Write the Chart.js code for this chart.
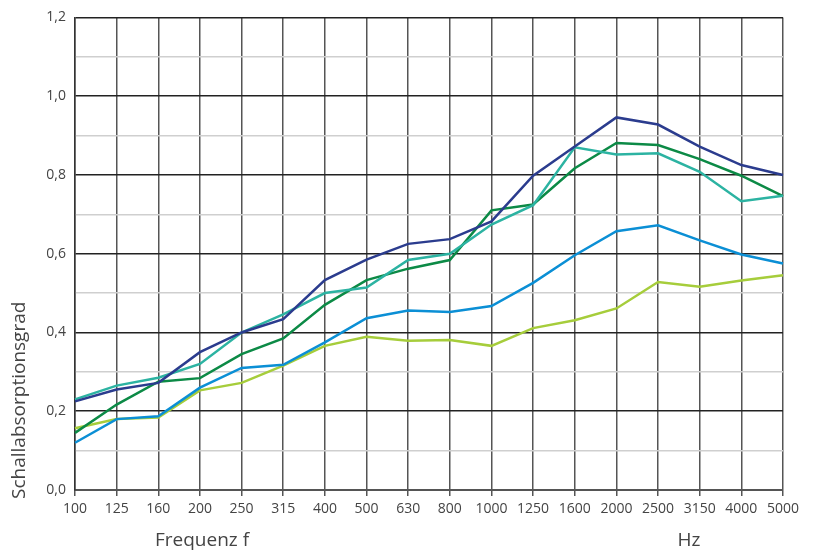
<!DOCTYPE html>
<html>
<head>
<meta charset="utf-8">
<script src="https://cdn.jsdelivr.net/npm/chart.js@4/dist/chart.umd.min.js"></script>
<style>
  html, body { margin: 0; padding: 0; background: #fff; }
  #wrap { width: 817px; height: 556px; position: relative; }
</style>
</head>
<body>
<div id="wrap"><canvas id="chart"></canvas></div>
<script>
// Frequenzen (Hz)
const frequencies = ['100', '125', '160', '200', '250', '315', '400', '500', '630', '800',
  '1000', '1250', '1600', '2000', '2500', '3150', '4000', '5000'];

// Schallabsorptionsgrad pro Kurve
const darkBlueValues = [0.225, 0.255, 0.272, 0.350, 0.400, 0.434, 0.533, 0.585, 0.625, 0.637,
  0.682, 0.798, 0.872, 0.946, 0.928, 0.872, 0.825, 0.800];
const tealValues = [0.230, 0.265, 0.285, 0.320, 0.400, 0.446, 0.500, 0.514, 0.584, 0.600,
  0.674, 0.723, 0.870, 0.852, 0.855, 0.808, 0.733, 0.747];
const greenValues = [0.145, 0.217, 0.275, 0.284, 0.345, 0.385, 0.470, 0.533, 0.562, 0.584,
  0.710, 0.725, 0.817, 0.881, 0.876, 0.840, 0.798, 0.746];
const blueValues = [0.120, 0.180, 0.187, 0.260, 0.310, 0.318, 0.375, 0.436, 0.456, 0.452,
  0.467, 0.526, 0.596, 0.657, 0.672, 0.634, 0.598, 0.575];
const limeValues = [0.157, 0.180, 0.184, 0.253, 0.272, 0.316, 0.366, 0.389, 0.379, 0.381,
  0.366, 0.411, 0.431, 0.461, 0.528, 0.516, 0.532, 0.545];

const yTicks = ['0,0', '0,2', '0,4', '0,6', '0,8', '1,0', '1,2'];

const FONT = "'Open Sans', Roboto, sans-serif";
const TEXT_COLOR = '#444';

function series(label, data, color) {
  return {
    label: label,
    data: data,
    borderColor: color,
    backgroundColor: color,
    borderWidth: 2.5,
    pointRadius: 0,
    tension: 0,
    fill: false
  };
}

// axis titles drawn by hand (positions like in the print original)
const axisTextPlugin = {
  id: 'axisText',
  afterDraw(chart) {
    const c = chart.ctx;
    c.save();
    c.fillStyle = TEXT_COLOR;
    c.font = '19px ' + FONT;
    c.textBaseline = 'middle';
    c.textAlign = 'left';
    c.fillText('Frequenz f', 155, 541);
    c.textAlign = 'center';
    c.fillText('Hz', 689, 541);
    // y title, rotated, bottom-aligned
    c.translate(20, 499);
    c.rotate(-Math.PI / 2);
    c.textAlign = 'left';
    c.font = '19px ' + FONT;
    c.fillText('Schallabsorptionsgrad', 0, 0);
    c.restore();
  }
};

new Chart(document.getElementById('chart'), {
  type: 'line',
  data: {
    labels: frequencies,
    datasets: [
      series('A', darkBlueValues, '#2b3c8e'),
      series('B', tealValues, '#2cb3a2'),
      series('C', greenValues, '#0c8a46'),
      series('D', blueValues, '#0b8fd5'),
      series('E', limeValues, '#a6cd3b')
    ]
  },
  options: {
    responsive: true,
    maintainAspectRatio: false,
    animation: false,
    layout: { padding: { top: 13, right: 34, left: 0, bottom: 0 } },
    plugins: {
      legend: { display: false },
      tooltip: { enabled: false }
    },
    scales: {
      x: {
        offset: false,
        grid: {
          color: '#555',
          lineWidth: 1.5,
          drawTicks: true,
          tickLength: 6
        },
        border: { color: '#555', width: 2 },
        ticks: {
          color: TEXT_COLOR,
          font: { size: 14, family: FONT },
          maxRotation: 0,
          autoSkip: false,
          padding: 5
        },
        afterFit(scale) { scale.height = 66; }
      },
      y: {
        min: 0,
        max: 1.2,
        grid: {
          color: ctx => (Math.round(ctx.tick.value * 10) % 2 === 0 ? '#222' : '#cfcfcf'),
          lineWidth: 1.5,
          drawTicks: false
        },
        border: { color: '#333', width: 1.5 },
        ticks: {
          stepSize: 0.1,
          color: TEXT_COLOR,
          font: { size: 14, family: FONT },
          padding: 9,
          callback: function (value) {
            const k = Math.round(value * 10);
            return k % 2 === 0 ? yTicks[k / 2] : '';
          }
        },
        afterFit(scale) { scale.width = 75; }
      }
    }
  },
  plugins: [axisTextPlugin]
});
</script>
</body>
</html>
